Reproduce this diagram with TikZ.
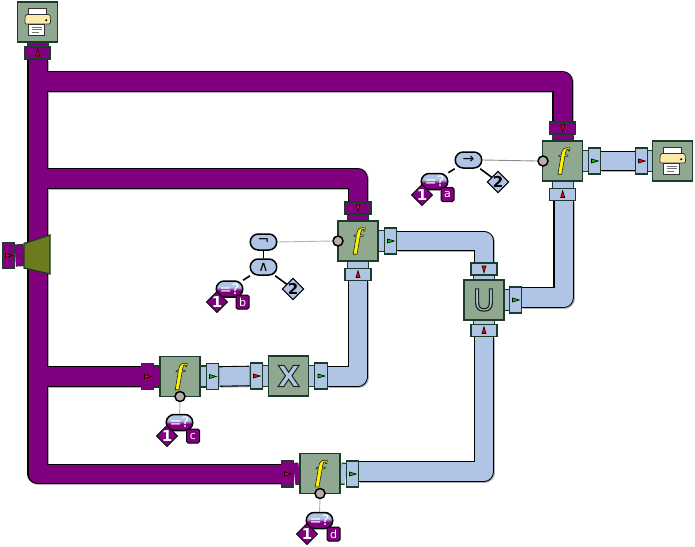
\documentclass[tikz,border=0pt]{standalone}
\usepackage{fontspec}
\setmainfont{DejaVu Sans}
\newfontfamily\ffont{Liberation Serif}
\usetikzlibrary{shapes.geometric,backgrounds}
\definecolor{purp}{HTML}{800080}
\definecolor{lblue}{HTML}{B0C4E6}
\definecolor{boxg}{HTML}{8FA88F}
\definecolor{edgeg}{HTML}{1B3B2B}
\definecolor{olive}{HTML}{6B7B1E}
\definecolor{knob}{HTML}{BBADAD}
\definecolor{cream}{HTML}{FFE9A8}
\definecolor{grn}{HTML}{00C800}
\pgfdeclareverticalshading{pillshade}{100bp}{color(0bp)=(purp); color(46bp)=(purp); color(56bp)=(lblue); color(100bp)=(lblue)}
\newcommand{\strokedtext}[3]{{\color{#1}\special{pdf:code 2 Tr #2 w 0.1 0.15 0.1 RG}#3\special{pdf:code 0 Tr}}}
\newcommand{\ftext}{\ffont\itshape\bfseries\fontsize{29}{29}\selectfont\strokedtext{yellow}{0.6}{f}}
\tikzset{
  opbox/.style={draw=edgeg,line width=1.3pt,fill=boxg,minimum width=40pt,minimum height=40pt,inner sep=0pt},
  portH/.style={draw=edgeg,line width=1.3pt,minimum width=12.5pt,minimum height=26pt,inner sep=0pt},
  portV/.style={draw=edgeg,line width=1.3pt,minimum width=26pt,minimum height=12pt,inner sep=0pt},
  pbg/.style={fill=purp},
  bbg/.style={fill=lblue},
  pipeshadow/.style={line width=20.6pt,draw=black!30,line join=round,transform canvas={xshift=.9pt,yshift=-.9pt}},
  pipeedge/.style={line width=20.6pt,draw=black,line join=round},
  pipefill/.style={line width=18.4pt,line join=round},
  stubline/.style={line width=1.3pt,draw=edgeg,double distance=19.6pt},
  knobc/.style={circle,draw=black,line width=1.5pt,fill=knob,minimum size=10pt,inner sep=0pt},
  pill/.style={rectangle,rounded corners=8pt,draw=black,line width=1.5pt,minimum width=26.5pt,minimum height=16pt,inner sep=0pt,fill=lblue,font=\fontsize{14}{14}\selectfont,text=black},
  eqpill/.style={rectangle,rounded corners=8pt,draw=black,line width=1.5pt,minimum width=26.5pt,minimum height=16pt,inner sep=0pt,shading=pillshade,font=\fontsize{14.5}{14.5}\selectfont,text=white},
  dia/.style={diamond,aspect=1,draw=black,line width=1pt,minimum size=20pt,inner sep=0pt,font=\bfseries\fontsize{15}{15}\selectfont},
  diaP/.style={dia,fill=purp,text=white},
  diaB/.style={dia,fill=lblue,text=black},
  sq/.style={rectangle,rounded corners=1.5pt,draw=black,line width=1pt,fill=purp,text=white,minimum width=13pt,minimum height=14pt,inner sep=0pt,font=\fontsize{11}{11}\selectfont},
  tree/.style={draw=black,line width=1.6pt},
  thin link/.style={draw=black!45,line width=.9pt},
  pics/tri/.style={code={\draw[fill=#1,draw=black,line width=.6pt] (-3,-2)--(3.8,0)--(-3,2)--cycle;}},
  pics/printer/.style={code={
    \draw[fill=white,draw=black!80,line width=.7pt] (-9,-14)--(9,-14)--(9,-6)--(-9,-6)--cycle;
    \draw[fill=cream,draw=black!80,line width=.7pt,rounded corners=1.5pt] (-12.3,-7.5)--(12.3,-7.5)--(13,2)--(-13,2)--cycle;
    \fill[black] (8.5,-1.8) circle (1.1);
    \draw[fill=white,draw=black!80,line width=.7pt] (-9.2,2)--(7,2)--(7,13)--(-9.2,13)--cycle;
    \draw[black!55,line width=.7pt] (-6,5)--(4,5) (-6,7.5)--(4,7.5) (-6,10)--(1,10);
  }}
}
\newcommand{\allpipes}[2]{%
  \begin{scope}[#1]
  \draw (pT.south) |- (p4a.west);
  \draw (j1) -| (p1a.north);
  \draw (j2) -| (p2a.north);
  \draw (j3) -- (p3a.west);
  \end{scope}
  \begin{scope}[#2]
  \draw (p3o.east) -- (pXa.west);
  \draw ([yshift=-0.5pt]pXo.east) -| (p2b.south);
  \draw (p2o.east) -| (pUa.north);
  \draw ([yshift=2.5pt]pUo.east) -| ([xshift=1pt]p1b.south);
  \draw ([yshift=2.5pt]p4o.east) -| (pUb.south);
  \draw (p1o.east) -- (p1n.west);
  \end{scope}}
\begin{document}
\begin{tikzpicture}[x=1pt,y=-1pt]
\useasboundingbox (0,0) rectangle (695,546);
% operators and printers
\node[opbox] (prA) at (37.7,22) {};
\node[portV,pbg] (pT) at (37.7,53) {};
\node[opbox] (f1) at (562.7,161) {\ftext};
\node[portV,pbg] (p1a) at (562.7,128) {};
\node[portV,bbg] (p1b) at (562.7,194.5) {};
\node[portH,bbg] (p1o) at (594.5,161) {};
\node[portH,bbg] (p1n) at (641.5,161) {};
\node[opbox] (prB) at (672.7,161) {};
\node[opbox] (f2) at (358,241) {\ftext};
\node[portV,pbg] (p2a) at (358,208) {};
\node[portV,bbg] (p2b) at (358,274.5) {};
\node[portH,bbg] (p2o) at (390.5,241) {};
\node[opbox] (f3) at (180,376.5) {\ftext};
\node[portH,pbg] (p3a) at (147.5,376.5) {};
\node[portH,bbg] (p3o) at (212.5,376.5) {};
\node[portH,bbg] (pXa) at (256.5,376) {};
\node[opbox] (fX) at (288.7,376) {\fontsize{29}{29}\selectfont\bfseries\strokedtext{lblue}{1}{X}};
\node[portH,bbg] (pXo) at (321,376) {};
\node[opbox] (fU) at (484,300) {\fontsize{30}{30}\selectfont\strokedtext{lblue}{1.2}{U}};
\node[portV,bbg] (pUa) at (484,269) {};
\node[portV,bbg] (pUb) at (484,330.5) {};
\node[portH,bbg] (pUo) at (515.5,300) {};
\node[opbox] (f4) at (320,473.5) {\ftext};
\node[portH,pbg] (p4a) at (287.5,474) {};
\node[portH,bbg] (p4o) at (352.5,474) {};
\node[portH,pbg] (pS) at (8.5,255.5) {};
% junctions and speaker
\coordinate (j1) at (37.7,81.5);
\coordinate (j2) at (37.7,178.5);
\coordinate (j3) at (37.7,376.5);
\coordinate (spk) at (24,255);
% pipes
\begin{pgfonlayer}{background}
\allpipes{pipeshadow}{pipeshadow}
\allpipes{pipeedge}{pipeedge}
\allpipes{pipefill,draw=purp}{pipefill,draw=lblue}
\foreach \a/\b in {pT.north/prA.south,p1a.south/f1.north,p2a.south/f2.north,p3a.east/f3.west,p4a.east/f4.west,pS.east/spk}{
  \draw[stubline,double=purp] (\a) -- (\b);
}
\foreach \a/\b in {p1b.north/f1.south,p2b.north/f2.south,pUa.south/fU.north,pUb.north/fU.south,p1o.west/f1.east,p1n.east/prB.west,p2o.west/f2.east,p3o.west/f3.east,pXa.east/fX.west,pXo.west/fX.east,pUo.west/fU.east,p4o.west/f4.east}{
  \draw[stubline,double=lblue] (\a) -- (\b);
}
\end{pgfonlayer}
% speaker
\draw[draw=edgeg,line width=1.3pt,fill=olive] (spk)+(0,-11.5) -- (50,235) -- (50,274) -- ([yshift=-13pt]spk) -- cycle;
% printer icons
\pic at (prA.center) {printer};
\pic at (prB.center) {printer};
% port triangles
\pic[rotate=90] at (pT.center) {tri=red};
\pic[rotate=-90] at (p1a.center) {tri=red};
\pic[rotate=90] at (p1b.center) {tri=red};
\pic at (p1o.center) {tri=grn};
\pic at (p1n.center) {tri=red};
\pic[rotate=-90] at (p2a.center) {tri=red};
\pic[rotate=90] at (p2b.center) {tri=red};
\pic at (p2o.center) {tri=grn};
\pic at (p3a.center) {tri=red};
\pic at (p3o.center) {tri=grn};
\pic at (pXa.center) {tri=red};
\pic at (pXo.center) {tri=grn};
\pic[rotate=-90] at (pUa.center) {tri=red};
\pic[rotate=90] at (pUb.center) {tri=red};
\pic at (pUo.center) {tri=grn};
\pic at (p4a.center) {tri=red};
\pic at (p4o.center) {tri=grn};
\pic at (pS.center) {tri=red};
% f1 condition
\node[knobc] (k1) at (543,161) {};
\node[pill] (arr) at (468.5,160) {→};
\node[eqpill] (eqa) at (434.5,181.5) {=?};
\node[diaP] (d1a) at (422,195) {1};
\node[sq] (sa) at (447.5,194.5) {a};
\node[diaB] (d2a) at (498,182) {2};
% f2 condition
\node[knobc] (k2) at (338,241) {};
\node[pill] (nt) at (263.5,242) {¬};
\node[pill] (nd) at (263.5,267) {∧};
\node[eqpill] (eqb) at (229.5,289) {=?};
\node[diaP] (d1b) at (217,302) {1};
\node[sq] (sb) at (242.5,302) {b};
\node[diaB] (d2b) at (293,289) {2};
% f3 condition
\node[knobc] (k3) at (180,396.5) {};
\node[eqpill] (eqc) at (179.5,422.5) {=?};
\node[diaP] (d1c) at (167,436) {1};
\node[sq] (sc) at (193,436) {c};
% f4 condition
\node[knobc] (k4) at (320,493.5) {};
\node[eqpill] (eqd) at (319.5,520.5) {=?};
\node[diaP] (d1d) at (307,534) {1};
\node[sq] (sd) at (333.5,534) {d};
\begin{pgfonlayer}{background}
\draw[thin link] (arr.east) -- (k1.west);
\draw[thin link,draw=black!30] (nt.east) -- (k2.west);
\draw[thin link,draw=black!30] (k3.south) -- (eqc.north);
\draw[thin link,draw=black!30] (k4.south) -- (eqd.north);
\draw[tree] (arr) -- (eqa);
\draw[tree] (arr) -- (d2a);
\draw[tree] (nt) -- (nd);
\draw[tree] (nd) -- (eqb);
\draw[tree] (nd) -- (d2b);
\end{pgfonlayer}
\end{tikzpicture}
\end{document}
